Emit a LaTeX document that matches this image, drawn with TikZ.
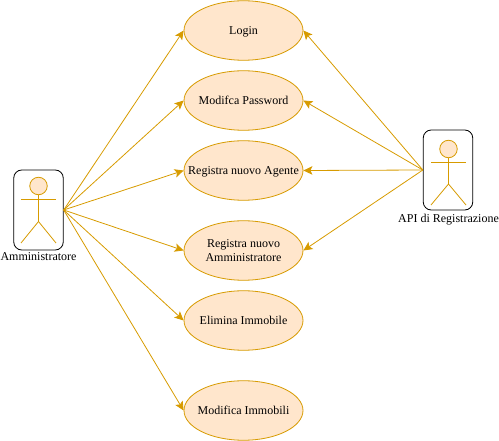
\documentclass[tikz,border=0pt]{standalone}
\usepackage{fontspec}
\setmainfont{Liberation Serif}
\usetikzlibrary{shapes.geometric,arrows.meta}
\definecolor{gold}{HTML}{D79B00}
\definecolor{fillc}{HTML}{FFE6CC}
\newcommand{\uct}[1]{\makebox[0pt]{\raisebox{-3.8pt}[0pt][0pt]{#1}}}
\tikzset{
  usecase/.style={ellipse,draw=gold,fill=fillc,line width=0.8pt,minimum width=119pt,minimum height=59.5pt,inner sep=0pt,align=center,font=\fontsize{12}{14}\selectfont},
  actorbox/.style={draw=black,fill=white,rounded corners=8pt,line width=0.8pt,minimum width=49.5pt,minimum height=80pt,inner sep=0pt},
  limb/.style={draw=gold,line width=0.8pt},
  headc/.style={circle,draw=gold,fill=fillc,line width=0.8pt,minimum size=17.5pt,inner sep=0pt},
  lbl/.style={inner sep=0pt,font=\fontsize{12}{14}\selectfont},
  link/.style={draw=gold,line width=0.8pt,-{Stealth[length=9pt,width=8.5pt,inset=2pt]},shorten >=0pt}
}
\begin{document}
\begin{tikzpicture}[x=1pt,y=-1pt]
\useasboundingbox (0,0) rectangle (499,441);
\node[usecase] (login) at (243.5,30.5) {\uct{Login}};
\node[usecase] (pwd) at (243.5,100.5) {\uct{Modifca Password}};
\node[usecase] (agente) at (243.5,170.5) {\uct{Registra nuovo Agente}};
\node[usecase] (admin) at (243.5,250.5) {\uct{Registra nuovo}\\\uct{Amministratore}};
\node[usecase] (elimina) at (243.5,320.5) {\uct{Elimina Immobile}};
\node[usecase] (immobili) at (243.5,410.5) {\uct{Modifica Immobili}};
\node[actorbox] (a) at (38.5,210) {};
\node[actorbox] (b) at (448,170) {};
\node[lbl] (al) at (38.5,257) {Amministratore};
\node[lbl] (bl) at (448.5,219.5) {API di Registrazione};
\node[headc] (ah) at (38.5,186) {};
\node[headc] (bh) at (448.5,149) {};
\coordinate (ab) at (38.5,221.5);
\coordinate (bb) at (448.5,184);
\draw[limb] (ah.south) -- (ab);
\draw[limb] (21,199.5) -- (56,199.5);
\draw[limb] (21,243) -- (ab) -- (56,243);
\draw[limb] (bh.south) -- (bb);
\draw[limb] (431,162) -- (466,162);
\draw[limb] (431,205) -- (bb) -- (466,205);
\foreach \t in {login,pwd,agente,admin,elimina,immobili}
  \draw[link] (a.east) -- (\t.west);
\foreach \t in {login,pwd,agente,admin}
  \draw[link] (b.west) -- (\t.east);
\end{tikzpicture}
\end{document}
